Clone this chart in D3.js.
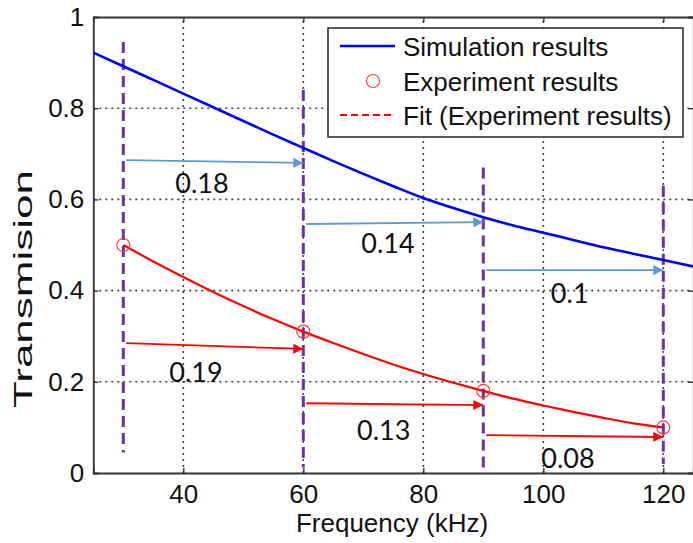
<!DOCTYPE html>
<html>
<head>
<meta charset="utf-8">
<script src="https://cdn.jsdelivr.net/npm/d3@7"></script>
<style>
  html, body { margin: 0; padding: 0; background: #fff; }
  svg { display: block; }
  text { font-family: "Liberation Sans", Arial, sans-serif; fill: #111; }
</style>
</head>
<body>
<svg id="chart" width="693" height="543"></svg>
<script>
// ---------------- data ----------------
const simFreq   = [25,30,35,40,45,50,55,60,65,70,75,80,85,90,95,100,105,110,115,120,125];
const simValues = [0.922,0.892,0.862,0.832,0.802,0.772,0.742,0.713,0.684,0.656,0.629,0.603,0.581,0.561,0.543,0.527,0.511,0.495,0.481,0.467,0.453];

const fitFreq   = [30,35,40,45,50,55,60,65,70,75,80,85,90,95,100,105,110,115,120];
const fitValues = [0.5,0.464,0.43,0.397,0.366,0.337,0.31,0.285,0.261,0.238,0.217,0.198,0.18,0.163,0.148,0.134,0.121,0.109,0.1];

const expFreq   = [30,60,90,120];
const expValues = [0.5,0.31,0.18,0.1];

const xTicks = [40,60,80,100,120];
const yTicks = [0,0.2,0.4,0.6,0.8,1];
const yTickLabels = ["0","0.2","0.4","0.6","0.8","1"];

const legendLabels = ["Simulation results","Experiment results","Fit (Experiment results)"];

// purple dashed marker lines
const markerFreq   = [30,60,90,120];
const markerTop    = [0.945,0.84,0.67,0.63];
const markerBottom = [0.045,0.012,0.012,0.02];

// shift annotations (simulation, blue)
const simFrom   = [30,60,90];
const simTo     = [60,90,120];
const simY0     = [0.686,0.546,0.445];
const simY1     = [0.680,0.550,0.445];
const simLabels = ["0.18","0.14","0.1"];
const simLabelX = [43.1,74.1,104.4];
const simLabelY = [0.614,0.482,0.373];

// shift annotations (experiment, red)
const expFrom   = [30,60,90];
const expTo     = [60,90,120];
const expY0     = [0.285,0.153,0.083];
const expY1     = [0.272,0.149,0.079];
const expLabels = ["0.19","0.13","0.08"];
const expLabelX = [42.1,73.4,104.1];
const expLabelY = [0.200,0.072,0.011];

// ---------------- chart ----------------
const svg = d3.select("#chart");
const x = d3.scaleLinear().domain([25,125]).range([93.3,693.3]);
const y = d3.scaleLinear().domain([0,1]).range([473,17]);

const defs = svg.append("defs");
function marker(id, color) {
  defs.append("marker").attr("id", id)
    .attr("viewBox","0 0 10 10").attr("refX",10).attr("refY",5)
    .attr("markerUnits","userSpaceOnUse")
    .attr("markerWidth",15).attr("markerHeight",10).attr("orient","auto")
    .append("path").attr("d","M0,0 L10,5 L0,10 Z").attr("fill",color);
}
marker("arrBlue","#5b9bd5");
marker("arrRed","#ff0000");

// grid
const grid = svg.append("g");
grid.selectAll("line.vg").data(xTicks).join("line")
  .attr("x1", d => x(d)).attr("x2", d => x(d))
  .attr("y1", y(0)).attr("y2", y(1))
  .attr("stroke","#444").attr("stroke-width",1.6).attr("stroke-dasharray","2,4");
grid.selectAll("line.hg").data(yTicks.filter(d => d > 0 && d < 1)).join("line")
  .attr("x1", x(25)).attr("x2", x(125))
  .attr("y1", d => y(d)).attr("y2", d => y(d))
  .attr("stroke","#444").attr("stroke-width",1.6).attr("stroke-dasharray","2,4");

// axes
const xAxis = d3.axisBottom(x).tickValues(xTicks).tickSize(-5).tickPadding(12).tickFormat(d3.format("d"));
const gx = svg.append("g").attr("transform",`translate(0,${y(0)})`).call(xAxis);
const yAxis = d3.axisLeft(y).tickValues(yTicks).tickSize(-5).tickPadding(9).tickFormat((d,i) => yTickLabels[i]);
const gy = svg.append("g").attr("transform",`translate(${x(25)},0)`).call(yAxis);
const gxTop = svg.append("g").attr("transform",`translate(0,${y(1)})`).call(d3.axisTop(x).tickValues(xTicks).tickSize(-5).tickFormat(""));
const gyR = svg.append("g").attr("transform",`translate(${x(125)},0)`).call(d3.axisRight(y).tickValues(yTicks).tickSize(-5).tickFormat(""));
[gx,gy,gxTop,gyR].forEach(g => {
  g.select(".domain").attr("stroke","#333").attr("stroke-width",1.8);
  g.selectAll(".tick line").attr("stroke","#333").attr("stroke-width",1.4);
  g.selectAll(".tick text").attr("font-size",26).attr("font-family","Liberation Sans, Arial, sans-serif").attr("fill","#111");
});
gy.selectAll(".tick").filter(d => d === 0 || d === 1).select("line").remove();

// axis titles
svg.append("text").attr("x", 392).attr("y", 532)
  .attr("text-anchor","middle").attr("font-size",26).text("Frequency (kHz)");
svg.append("text").attr("transform","translate(32,289) rotate(-90)")
  .attr("text-anchor","middle").attr("font-size",26)
  .attr("textLength",238).attr("lengthAdjust","spacingAndGlyphs")
  .text("Transmision");

// purple dashed marker lines
svg.append("g").selectAll("line").data(markerFreq).join("line")
  .attr("x1", d => x(d)).attr("x2", d => x(d))
  .attr("y1", (d,i) => y(markerTop[i])).attr("y2", (d,i) => y(markerBottom[i]))
  .attr("stroke","#7030a0").attr("stroke-width",3).attr("stroke-dasharray","11,6");

// simulation curve
svg.append("path").datum(simFreq.map((f,i) => [f, simValues[i]]))
  .attr("d", d3.line().x(d => x(d[0])).y(d => y(d[1])).curve(d3.curveMonotoneX))
  .attr("fill","none").attr("stroke","#0000ff").attr("stroke-width",2.6);

// fit curve
svg.append("path").datum(fitFreq.map((f,i) => [f, fitValues[i]]))
  .attr("d", d3.line().x(d => x(d[0])).y(d => y(d[1])).curve(d3.curveMonotoneX))
  .attr("fill","none").attr("stroke","#ff0000").attr("stroke-width",2.2);

// experiment points
svg.append("g").selectAll("circle").data(expFreq).join("circle")
  .attr("cx", d => x(d)).attr("cy", (d,i) => y(expValues[i])).attr("r",6.5)
  .attr("fill","none").attr("stroke","#ff3b3b").attr("stroke-width",1.2);

// annotation arrows
function arrows(from, to, y0, y1, color, mk) {
  svg.append("g").selectAll("line").data(from).join("line")
    .attr("x1", d => x(d) + 3).attr("x2", (d,i) => x(to[i]))
    .attr("y1", (d,i) => y(y0[i])).attr("y2", (d,i) => y(y1[i]))
    .attr("stroke", color).attr("stroke-width",1.8)
    .attr("marker-end", `url(#${mk})`);
}
arrows(simFrom, simTo, simY0, simY1, "#5b9bd5", "arrBlue");
arrows(expFrom, expTo, expY0, expY1, "#ff0000", "arrRed");

function labels(txt, lx, ly) {
  svg.append("g").selectAll("text").data(txt).join("text")
    .attr("x", (d,i) => x(lx[i])).attr("y", (d,i) => y(ly[i]))
    .attr("text-anchor","middle")
    .attr("font-size",27).style("font-family","Lato, 'Open Sans', sans-serif")
    .text(d => d);
}
labels(simLabels, simLabelX, simLabelY);
labels(expLabels, expLabelX, expLabelY);

// legend
const lg = svg.append("g");
lg.append("rect").attr("x",328).attr("y",28).attr("width",355).attr("height",109)
  .attr("fill","#fff").attr("stroke","#333").attr("stroke-width",1.6);
const ly = [46, 81, 115];
lg.append("line").attr("x1",340).attr("x2",395).attr("y1",ly[0]).attr("y2",ly[0])
  .attr("stroke","#0000ff").attr("stroke-width",2.6);
lg.append("circle").attr("cx",373).attr("cy",ly[1]).attr("r",6.5)
  .attr("fill","none").attr("stroke","#ff3b3b").attr("stroke-width",1.2);
lg.append("line").attr("x1",340).attr("x2",395).attr("y1",ly[2]).attr("y2",ly[2])
  .attr("stroke","#ff0000").attr("stroke-width",2).attr("stroke-dasharray","7,4");
lg.selectAll("text").data(legendLabels).join("text")
  .attr("x",403).attr("y",(d,i) => ly[i] + 10)
  .attr("font-size",26).text(d => d);
</script>
</body>
</html>
